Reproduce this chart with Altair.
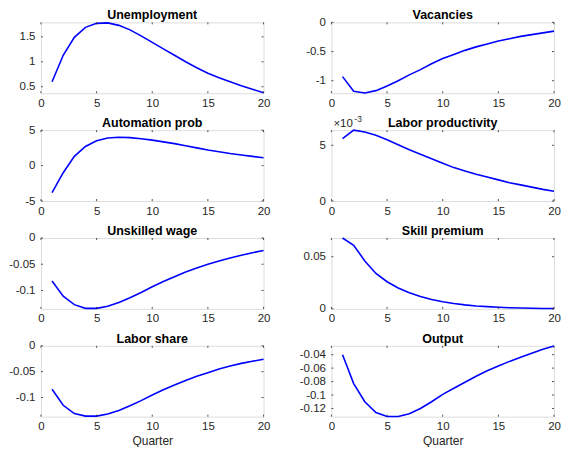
import altair as alt
import pandas as pd

quarters = list(range(1, 21))

unemployment = [0.60, 1.13, 1.49, 1.69, 1.77, 1.78, 1.73, 1.64, 1.52, 1.39,
                1.26, 1.13, 1.00, 0.88, 0.77, 0.68, 0.60, 0.52, 0.45, 0.38]
vacancies = [-0.93, -1.18, -1.21, -1.17, -1.09, -1.00, -0.90, -0.81, -0.71, -0.62,
             -0.55, -0.48, -0.42, -0.37, -0.32, -0.28, -0.24, -0.21, -0.18, -0.15]
automation = [-3.8, -1.0, 1.3, 2.7, 3.5, 3.9, 4.0, 3.95, 3.8, 3.6,
              3.35, 3.1, 2.8, 2.5, 2.2, 1.95, 1.7, 1.5, 1.3, 1.1]
productivity = [0.00560, 0.00636, 0.00620, 0.00590, 0.00550, 0.00505, 0.00460, 0.00420,
                0.00380, 0.00340, 0.00300, 0.00270, 0.00240, 0.00215, 0.00190, 0.00165,
                0.00145, 0.00125, 0.00105, 0.00088]
unskilled_wage = [-0.082, -0.111, -0.127, -0.134, -0.134, -0.130, -0.123, -0.114, -0.104, -0.093,
                  -0.083, -0.074, -0.065, -0.057, -0.050, -0.044, -0.038, -0.033, -0.028, -0.024]
skill_premium = [0.068, 0.061, 0.046, 0.034, 0.026, 0.020, 0.0155, 0.0118, 0.0090, 0.0068,
                 0.0051, 0.0038, 0.0028, 0.0021, 0.0015, 0.0011, 0.0008, 0.0006, 0.0004, 0.0003]
labor_share = [-0.084, -0.115, -0.131, -0.136, -0.136, -0.132, -0.125, -0.116, -0.106, -0.095,
               -0.085, -0.076, -0.067, -0.059, -0.052, -0.045, -0.039, -0.034, -0.030, -0.026]
output = [-0.040, -0.083, -0.110, -0.126, -0.132, -0.132, -0.128, -0.120, -0.110, -0.099,
          -0.090, -0.081, -0.072, -0.064, -0.057, -0.050, -0.044, -0.038, -0.032, -0.027]

x_ticks = [0, 5, 10, 15, 20]

W, H = 223, 71
FONT = "Liberation Sans"
AX = "#262626"
TICKLEN = 2


def panel(title, values, domain, yticks, label_expr, xlabel=None, exponent=False):
    df = pd.DataFrame({"q": quarters, "v": values})
    xt = pd.DataFrame({"q": x_ticks})
    yt = pd.DataFrame({"v": yticks})
    xscale = alt.Scale(domain=[0, 20], nice=False, zero=False)
    yscale = alt.Scale(domain=domain, nice=False, zero=False)
    xaxis = alt.Axis(values=x_ticks, ticks=False, domain=False, grid=False,
                     labelPadding=4, labelFontSize=11.5, labelColor=AX,
                     labelFont=FONT, titleFont=FONT, titleFontSize=12,
                     titleColor=AX, titleFontWeight="normal", titlePadding=3,
                     labelFlush=False)
    yaxis = alt.Axis(values=yticks, ticks=False, domain=False, grid=False,
                     labelPadding=6, labelFontSize=11.5, labelColor=AX,
                     labelFont=FONT, labelExpr=label_expr, minExtent=32,
                     maxExtent=32, labelFlush=False)
    if xlabel:
        xenc = alt.X("q:Q", scale=xscale, axis=xaxis, title=xlabel)
    else:
        xenc = alt.X("q:Q", scale=xscale, axis=xaxis, title=None)
    yenc = alt.Y("v:Q", scale=yscale, axis=yaxis, title=None)
    line = alt.Chart(df).mark_line(color="#0000FF", strokeWidth=1.6).encode(x=xenc, y=yenc)
    xtb = alt.Chart(xt).mark_rule(color=AX, strokeWidth=0.8).encode(
        x=xenc, y=alt.value(H - TICKLEN), y2=alt.value(H))
    xtt = alt.Chart(xt).mark_rule(color=AX, strokeWidth=0.8).encode(
        x=xenc, y=alt.value(0), y2=alt.value(TICKLEN))
    ytl = alt.Chart(yt).mark_rule(color=AX, strokeWidth=0.8).encode(
        y=yenc, x=alt.value(0), x2=alt.value(TICKLEN))
    ytr = alt.Chart(yt).mark_rule(color=AX, strokeWidth=0.8).encode(
        y=yenc, x=alt.value(W - TICKLEN), x2=alt.value(W))
    ttl = alt.Chart(df.head(1)).mark_text(
        align="center", baseline="alphabetic", font=FONT, fontSize=12.5,
        fontWeight="bold", color="#000000"
    ).encode(x=alt.value(W / 2), y=alt.value(-3), text=alt.value(title))
    layers = [line, xtb, xtt, ytl, ytr, ttl]
    if exponent:
        base = alt.Chart(df.head(1)).mark_text(
            align="left", baseline="alphabetic", font=FONT, fontSize=11.5, color=AX
        ).encode(x=alt.value(2), y=alt.value(-3), text=alt.value("×10"))
        sup = alt.Chart(df.head(1)).mark_text(
            align="left", baseline="alphabetic", font=FONT, fontSize=8.5, color=AX
        ).encode(x=alt.value(23), y=alt.value(-8), text=alt.value("-3"))
        layers += [base, sup]
    return alt.layer(*layers).properties(width=W, height=H)


plain = "'' + datum.value"
p1 = panel("Unemployment", unemployment, [0.37, 1.79], [0.5, 1, 1.5], plain)
p2 = panel("Vacancies", vacancies, [-1.215, 0], [-1, -0.5, 0], plain)
p3 = panel("Automation prob", automation, [-5, 5], [-5, 0, 5], plain)
p4 = panel("Labor productivity", productivity, [0, 0.00636], [0, 0.005],
           "'' + round(datum.value * 1000)", exponent=True)
p5 = panel("Unskilled wage", unskilled_wage, [-0.135, 0], [-0.1, -0.05, 0], plain)
p6 = panel("Skill premium", skill_premium, [0, 0.068], [0, 0.05], plain)
p7 = panel("Labor share", labor_share, [-0.137, 0], [-0.1, -0.05, 0], plain, xlabel="Quarter")
p8 = panel("Output", output, [-0.1322, -0.0268], [-0.12, -0.1, -0.08, -0.06, -0.04], plain,
           xlabel="Quarter")

chart = alt.concat(
    p1, p2, p3, p4, p5, p6, p7, p8,
    columns=2, bounds="flush",
    spacing=alt.RowColnumber(row=37, column=68),
).properties(padding=0).configure_view(
    stroke=AX, strokeWidth=0.8
).configure(background="white")

chart.save("out.html", embed_options={"renderer": "svg", "actions": False})
